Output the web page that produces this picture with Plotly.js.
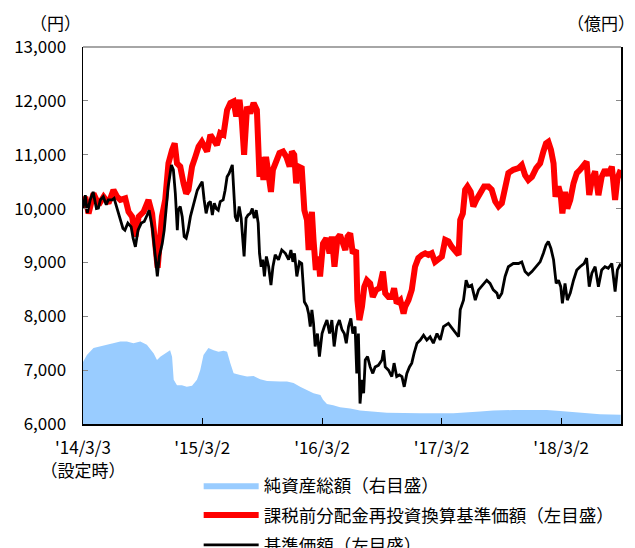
<!DOCTYPE html>
<html>
<head>
<meta charset="utf-8">
<script src="https://cdn.plot.ly/plotly-3.0.1.min.js"></script>
<style>html,body{margin:0;padding:0;background:#fff;}#chart{width:635px;height:548px;}</style>
</head>
<body>
<div id="chart"></div>
<script>
// Launch date (設定日)
const launchDate = '2014-03-03';

// 基準価額 (左目盛) — days since launch, values in 円
const blackDays = [0,7,13,22,31,41,47,53,62,71,
77,89,95,104,113,122,128,137,147,153,
160,168,178,187,196,202,212,218,227,233,
242,248,254,260,270,276,282,288,291,297,
303,309,315,321,328,337,343,349,358,364,
370,376,383,389,395,401,407,413,419,428,
434,440,446,453,456,462,465,471,477,483,
489,492,498,504,511,517,523,529,535,539,
544,549,554,560,567,574,580,587,597,607,
618,628,635,641,646,653,661,668,676,684,
689,694,699,704,709,716,722,730,737,745,
753,760,767,775,783,791,798,804,811,818,
824,831,836,841,846,852,857,862,869,877,
885,892,902,913,918,923,933,943,950,958,
966,974,981,989,997,1004,1011,1020,1030,1040,
1050,1060,1070,1081,1091,1101,1116,1131,1147,1152,
1162,1170,1177,1187,1198,1208,1223,1233,1243,1253,
1264,1269,1279,1289,1299,1314,1330,1340,1350,1360,
1371,1384,1396,1406,1414,1421,1429,1437,1445,1452,
1459,1464,1472,1479,1488,1498,1508,1518,1530,1538,
1546,1554,1564,1574,1584,1594,1604,1615,1625,1632,
1642];
const blackVals = [10000,10250,9920,10160,10310,10000,10010,10160,10220,10070,
10160,10160,10190,10000,9850,9630,9600,9730,9660,9450,
9290,9600,9730,9760,9880,9970,9630,9230,8740,9110,
9350,9600,9970,10400,10810,10720,10280,9600,9970,10040,
9850,9480,9450,9600,9850,10040,10190,10340,10440,10500,
10160,9910,10100,10130,9880,10100,10000,9970,10130,10160,
10340,10590,10650,10750,10810,10160,9850,9760,10040,9820,
9230,9110,9820,9880,9910,10000,9820,9970,9730,9170,
8920,9050,8740,9110,8920,8580,8920,9140,9050,9230,
9170,9050,9230,9010,9170,8740,9010,8980,8270,8180,
8050,7810,8120,7870,7440,7680,7250,7680,7810,7930,
7680,7930,7440,7810,7930,7750,7680,7500,7810,7960,
7680,7810,6940,7680,6380,6820,6570,7190,7250,7060,
6940,7060,7090,7190,7370,7060,7000,6880,7130,6880,
6910,6880,6690,6940,7060,7130,7310,7500,7560,7650,
7560,7620,7500,7680,7560,7810,7870,7750,7620,8120,
8300,8670,8550,8580,8300,8490,8610,8670,8610,8490,
8430,8330,8430,8740,8920,8980,8980,9010,8830,8770,
8830,8920,9010,9170,9320,9390,9260,9050,8610,8670,
8550,8240,8610,8300,8430,8670,8860,8920,8980,9080,
8550,8800,8920,8550,8860,8920,8890,8980,8460,8860,
8980];

// 課税前分配金再投資換算基準価額 (左目盛)
const redDays = [0,7,17,32,48,63,78,93,104,114,
129,139,150,160,170,185,200,211,228,241,
251,261,272,280,287,297,307,315,322,333,
343,353,363,373,379,389,399,409,419,429,
440,450,460,468,478,485,492,501,511,521,
531,539,544,551,559,567,574,580,590,600,
611,621,631,638,645,651,658,668,676,684,
689,694,699,704,711,719,724,733,743,753,
760,768,777,785,794,801,808,816,824,834,
838,844,852,859,867,877,885,895,905,916,
923,933,943,950,958,969,979,984,994,1004,
1014,1024,1035,1045,1055,1065,1075,1085,1096,1106,
1116,1126,1137,1147,1152,1160,1167,1174,1184,1192,
1201,1213,1225,1238,1248,1259,1269,1279,1289,1299,
1314,1330,1340,1350,1360,1371,1384,1396,1406,1414,
1421,1429,1437,1443,1452,1459,1464,1472,1479,1488,
1498,1508,1518,1530,1538,1546,1554,1564,1574,1584,
1594,1604,1615,1625,1632,1642];
const redVals = [10000,10220,9910,10280,10070,10220,10100,10345,10220,10160,
10190,9940,9850,9480,9850,9940,10160,9910,8900,9850,
10160,10840,11090,11210,10840,10780,10470,10280,10345,10780,
10960,11150,11240,11150,11060,11370,11270,11180,11400,11370,
11830,11960,11990,11710,12020,11650,11000,11890,11770,11960,
11830,10590,10960,10530,10960,10650,10310,10720,10900,11030,
11060,10960,10780,11060,11000,10470,10780,10750,9970,9790,
9230,9790,9940,9420,8860,9110,8740,9350,9450,9170,
9480,8920,9450,9510,9290,9230,9480,9540,9170,9230,
8300,7930,8180,8550,8670,8610,8360,8490,8520,8830,
8430,8360,8360,8520,8240,8300,8050,8180,8300,8490,
8920,9080,9140,9170,9140,9170,9010,9050,9110,9420,
9390,9290,9200,9140,9790,9910,10350,10410,10310,10040,
10160,10310,10410,10410,10350,10130,10040,10100,10410,10660,
10720,10750,10810,10620,10530,10590,10750,10840,11060,11210,
11240,11090,10840,10220,10410,10250,9910,10310,10000,10160,
10470,10660,10720,10810,10870,10250,10530,10690,10250,10590,
10720,10620,10780,10160,10560,10720];

// 純資産総額 (右目盛, 億円)
const areaDays = [0,12,32,53,73,93,114,134,154,175,
195,216,226,236,251,266,272,277,287,302,
317,333,348,358,368,383,399,414,429,440,
450,460,480,501,521,541,562,582,602,623,
643,663,684,704,725,733,745,764,785,816,
846,928,1030,1131,1213,1253,1314,1416,1457,1518,
1579,1642];
const areaVals = [115,128,141,144,147,150,153,153,150,153,
147,131,119,125,131,137,125,82,72,72,
69,71,82,100,128,141,137,134,136,134,
113,94,91,88,89,83,80,79,79,79,
76,69,63,57,54,45,37,35,31,29,
25,21,20,20,23,25,26,26,24,21,
18,17];

// Axis tick dates & labels
const tickDates = ['2014-03-03','2015-03-02','2016-03-02','2017-03-02','2018-03-02'];
const tickLabels = ["'14/3/3<br>（設定時）","'15/3/2","'16/3/2","'17/3/2","'18/3/2"];

const seriesNames = ['純資産総額（右目盛）','課税前分配金再投資換算基準価額（左目盛）','基準価額（左目盛）'];

function toDates(days){
  const base = Date.parse(launchDate + 'T00:00:00Z');
  return days.map(d => new Date(base + d*86400000).toISOString().slice(0,10));
}

const FONT = 'Noto Sans CJK JP, sans-serif';

const traces = [
  {x: toDates(areaDays), y: areaVals, yaxis: 'y2', type: 'scatter', mode: 'lines',
   fill: 'tozeroy', fillcolor: '#99CCFF', line: {width: 0, color: '#99CCFF'},
   name: seriesNames[0], legendgroup: 'a', hoverinfo: 'skip'},
  {x: toDates(redDays), y: redVals, type: 'scatter', mode: 'lines',
   line: {color: '#FF0000', width: 6}, name: seriesNames[1], legendgroup: 'b'},
  {x: toDates(blackDays), y: blackVals, type: 'scatter', mode: 'lines',
   line: {color: '#000000', width: 2.8}, name: seriesNames[2], legendgroup: 'c'}
];

const layout = {
  width: 635, height: 548,
  margin: {l: 83, r: 14, t: 47, b: 124, autoexpand: false},
  paper_bgcolor: '#fff', plot_bgcolor: '#fff',
  font: {family: FONT, size: 17, color: '#000'},
  showlegend: true,
  legend: {x: 0.215, xref: 'paper', y: 0.147, yref: 'container', xanchor: 'left', yanchor: 'top',
           font: {family: FONT, size: 17.5, color: '#000'}, itemwidth: 55,
           bgcolor: 'rgba(0,0,0,0)', tracegroupgap: 4},
  xaxis: {type: 'date', range: ['2014-03-03', '2018-09-01'],
          tickmode: 'array', tickvals: tickDates, ticktext: tickLabels,
          ticks: 'inside', ticklen: 6, tickcolor: '#000', tickwidth: 1,
          showline: true, linecolor: '#000', linewidth: 2, showgrid: false, zeroline: false,
          tickfont: {family: FONT, size: 17}, ticklabelstandoff: 8, fixedrange: true},
  yaxis: {range: [6000, 13000], dtick: 1000, tick0: 6000, tickformat: ',d',
          ticks: 'inside', ticklen: 5, tickcolor: '#888', tickwidth: 1,
          showline: true, linecolor: '#000', linewidth: 1.5, showgrid: false, zeroline: false,
          tickfont: {family: FONT, size: 17}, ticklabelstandoff: 12},
  yaxis2: {range: [0, 700], dtick: 100, overlaying: 'y', side: 'right',
           ticks: 'inside', ticklen: 5, tickcolor: '#888', tickwidth: 1,
           showline: true, linecolor: '#000', linewidth: 2, showgrid: false, zeroline: false,
           showticklabels: false},
  shapes: [{type: 'line', xref: 'paper', yref: 'paper', x0: 0, x1: 1, y0: 1, y1: 1,
            line: {color: '#888', width: 1.5}}],
  annotations: [
    {text: '（円）', xref: 'paper', yref: 'paper', x: -0.052, y: 1.066, xanchor: 'center', yanchor: 'middle',
     showarrow: false, font: {family: FONT, size: 17}},
    {text: '（億円）', xref: 'paper', yref: 'paper', x: 1.03, y: 1.066, xanchor: 'right', yanchor: 'middle',
     showarrow: false, font: {family: FONT, size: 17}}
  ]
};

Plotly.newPlot('chart', traces, layout, {displayModeBar: false, staticPlot: true});
</script>
</body>
</html>
